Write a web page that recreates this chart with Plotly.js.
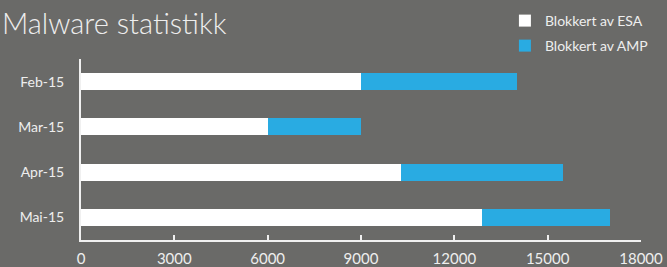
<!DOCTYPE html>
<html>
<head>
<meta charset="utf-8">
<script src="https://cdn.plot.ly/plotly-3.0.1.min.js"></script>
<style>html,body{margin:0;padding:0;background:#6a6a68;}#chart{width:667px;height:267px;}</style>
</head>
<body>
<div id="chart"></div>
<script>
const months = ["Feb-15", "Mar-15", "Apr-15", "Mai-15"];
const esaValues = [9000, 6000, 10300, 12900];
const ampValues = [5000, 3000, 5200, 4100];
const xTicks = [0, 3000, 6000, 9000, 12000, 15000, 18000];
const seriesNames = ["Blokkert av ESA", "Blokkert av AMP"];
const chartTitle = "Malware statistikk";

const fontFam = "Lato, 'Open Sans', sans-serif";
const textCol = "#eeeeee";

const traces = [
  {type: "bar", orientation: "h", y: months, x: esaValues, name: seriesNames[0],
   marker: {color: "#ffffff"}, legend: "legend", hoverinfo: "x+y"},
  {type: "bar", orientation: "h", y: months, x: ampValues, name: seriesNames[1],
   marker: {color: "#29abe2"}, legend: "legend2", hoverinfo: "x+y"}
];

const legendCommon = {
  xref: "container", yref: "container", xanchor: "left", yanchor: "middle",
  bgcolor: "rgba(0,0,0,0)", font: {family: fontFam, size: 14, color: textCol},
  itemwidth: 30
};

const layout = {
  width: 667, height: 267,
  paper_bgcolor: "#6a6a68", plot_bgcolor: "#6a6a68",
  margin: {l: 81, r: 26, t: 59, b: 27, autoexpand: false},
  barmode: "stack", bargap: 0.62,
  annotations: [{text: chartTitle, xref: "paper", yref: "paper", x: -0.145, xanchor: "left",
                 y: 1.2, yanchor: "middle", showarrow: false,
                 font: {family: fontFam, size: 29, color: textCol, weight: 300}}],
  xaxis: {range: [0, 18000], tickvals: xTicks, ticktext: xTicks.map(String),
          showgrid: false, zeroline: false, showline: true, linecolor: "#f0f0f0", linewidth: 2,
          ticks: "inside", ticklen: 5, tickwidth: 2, tickcolor: "#f0f0f0",
          ticklabelstandoff: 4, automargin: false,
          tickfont: {family: fontFam, size: 15, color: textCol}, fixedrange: true},
  yaxis: {autorange: "reversed", showgrid: false, zeroline: false, showline: true,
          linecolor: "#f0f0f0", linewidth: 2, ticks: "", ticklabelstandoff: 12, automargin: false,
          tickfont: {family: fontFam, size: 14, color: textCol}, fixedrange: true},
  legend: Object.assign({}, legendCommon, {x: 0.757, y: 1 - 21/267}),
  legend2: Object.assign({}, legendCommon, {x: 0.757, y: 1 - 46/267}),
  showlegend: true
};

Plotly.newPlot("chart", traces, layout, {displayModeBar: false, staticPlot: true});
</script>
</body>
</html>
